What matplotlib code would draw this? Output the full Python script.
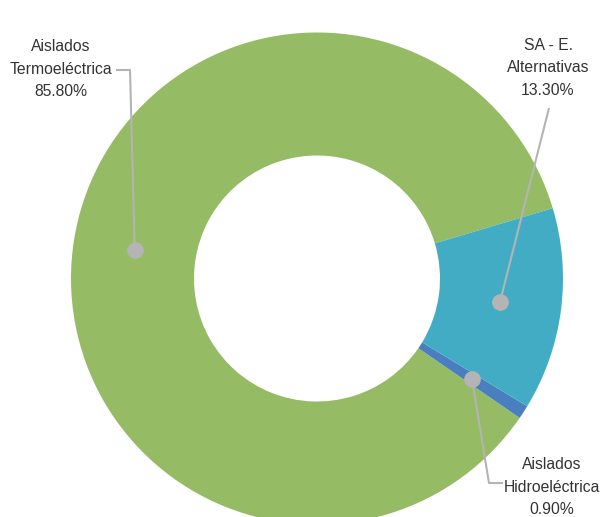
import numpy as np
import matplotlib.pyplot as plt

# ===== data =====
categories = ["Aislados\nTermoeléctrica", "Aislados\nHidroeléctrica", "SA - E.\nAlternativas"]
values = [85.80, 0.90, 13.30]
colors = ["#95bb65", "#4a7fbf", "#42acc4"]

plt.rcParams['font.family'] = ['Liberation Sans', 'DejaVu Sans']

W, H = 603, 517
fig = plt.figure(figsize=(W / 100, H / 100), dpi=100)
ax = fig.add_axes([0, 0, 1, 1])

cx, cy = 317, H - 278.5
R = 246

wedges, _ = ax.pie(values, colors=colors, startangle=16.6, counterclock=True,
                   center=(cx, cy), radius=R,
                   wedgeprops=dict(width=R * 0.5, linewidth=0))

ax.set_xlim(0, W)
ax.set_ylim(0, H)
ax.set_aspect('equal')
ax.axis('off')

# ===== labels with leader lines (image coords, y down) =====
leaders = [
    [(130, 70), (116, 70)],
    [(489, 483), (503, 483)],
    [(549, 108)],
]
text_pos = [(61, 69), (552, 487), (548, 68)]

line_c = "#b4b4b4"
for w, v, cat, pts, tp in zip(wedges, values, categories, leaders, text_pos):
    mid = np.deg2rad((w.theta1 + w.theta2) / 2)
    mx = cx + 0.75 * R * np.cos(mid)
    my = cy + 0.75 * R * np.sin(mid)
    xs = [mx] + [p[0] for p in pts]
    ys = [my] + [H - p[1] for p in pts]
    ax.plot(xs, ys, color=line_c, lw=1.5, solid_capstyle='butt', zorder=3)
    ax.plot(mx, my, 'o', ms=11, color=line_c, zorder=4)
    ax.text(tp[0], H - tp[1], f"{cat}\n{v:.2f}%", ha='center', va='center',
            fontsize=11.3, color="#333333", linespacing=1.65)

fig.savefig("out.png", dpi=100)
